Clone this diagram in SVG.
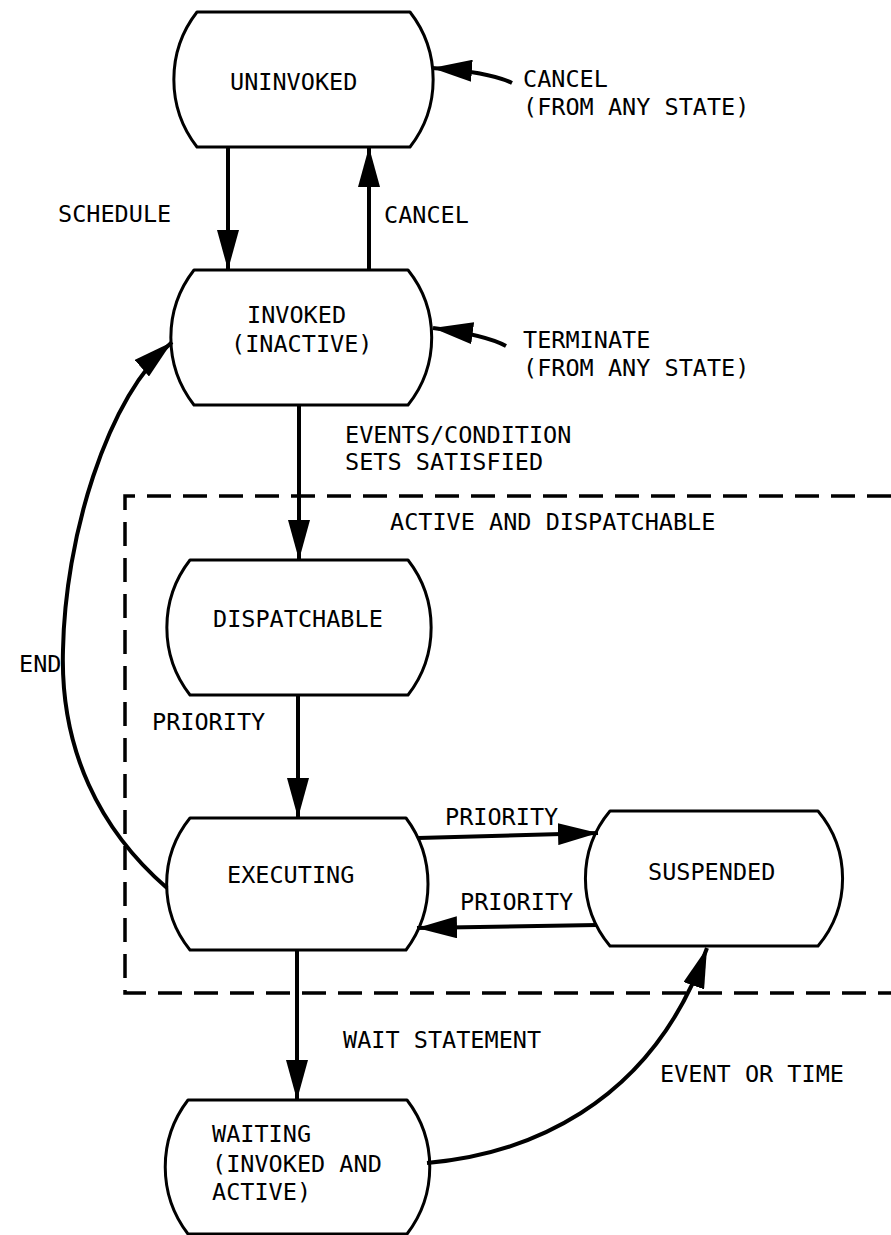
<svg xmlns="http://www.w3.org/2000/svg" width="891" height="1235" viewBox="0 0 891 1235">
<style>
.node{fill:#fff;stroke:#000;stroke-width:3;stroke-linejoin:round}
.conn{fill:none;stroke:#000;stroke-width:4;marker-end:url(#ah)}
.dash{fill:none;stroke:#000;stroke-width:3.5;stroke-dasharray:24 12}
text{font-family:"DejaVu Sans Mono","Liberation Mono",monospace;font-size:23.5px;fill:#000}
</style>
<defs>
<marker id="ah" markerUnits="userSpaceOnUse" markerWidth="42" markerHeight="22" refX="40" refY="11" orient="auto" viewBox="0 0 42 22">
<path d="M0,0 L40,11 L0,22 Z" fill="#000"/>
</marker>
</defs>
<rect width="891" height="1235" fill="#fff"/>
<g id="active-region">
<path class="dash" d="M891,496 L125,496 L125,993 L891,993"/>
<text x="390" y="530">ACTIVE AND DISPATCHABLE</text>
</g>
<g id="uninvoked">
<path class="node" d="M197,12 L410,12 A110,110 0 0 1 410,147 L197,147 A110,110 0 0 1 197,12 Z"/>
<text x="230" y="90">UNINVOKED</text>
</g>
<g id="invoked">
<path class="node" d="M194,270 L408,270 A108,108 0 0 1 408,405 L194,405 A110,110 0 0 1 194,270 Z"/>
<text x="247" y="323">INVOKED</text>
<text x="231" y="352">(INACTIVE)</text>
</g>
<g id="dispatchable">
<path class="node" d="M190,560 L408,560 A110,110 0 0 1 408,695 L190,695 A110,110 0 0 1 190,560 Z"/>
<text x="213" y="627">DISPATCHABLE</text>
</g>
<g id="executing">
<path class="node" d="M190,818 L406,818 A110,110 0 0 1 406,950 L190,950 A105,105 0 0 1 190,818 Z"/>
<text x="227" y="883">EXECUTING</text>
</g>
<g id="suspended">
<path class="node" d="M610,811 L818,811 A105,105 0 0 1 818,946 L610,946 A105,105 0 0 1 610,811 Z"/>
<text x="648" y="880">SUSPENDED</text>
</g>
<g id="waiting">
<path class="node" d="M188,1100 L407,1100 A110,110 0 0 1 407,1234 L188,1234 A110,110 0 0 1 188,1100 Z"/>
<text x="212" y="1142">WAITING</text>
<text x="212" y="1172">(INVOKED AND</text>
<text x="212" y="1200">ACTIVE)</text>
</g>
<g id="connectors">
<path class="conn" d="M228,147 L228,270"/>
<path class="conn" d="M369,270 L369,147"/>
<path class="conn" d="M512,83 Q490,72 432,68"/>
<path class="conn" d="M506,346 Q486,335 433,328"/>
<path class="conn" d="M299,405 L299,560"/>
<path class="conn" d="M298,695 L298,818"/>
<path class="conn" d="M297,950 L297,1100"/>
<path class="conn" d="M418,838 L598,833"/>
<path class="conn" d="M597,925 L417,928"/>
<path class="conn" d="M167,888 C100,830 60,750 63,650 C65,540 105,400 172,342"/>
<path class="conn" d="M427,1163 C520,1155 650,1110 707,948"/>
</g>
<g id="labels">
<text x="523" y="87">CANCEL</text>
<text x="523" y="115">(FROM ANY STATE)</text>
<text x="58" y="222">SCHEDULE</text>
<text x="384" y="223">CANCEL</text>
<text x="523" y="348">TERMINATE</text>
<text x="523" y="376">(FROM ANY STATE)</text>
<text x="345" y="443">EVENTS/CONDITION</text>
<text x="345" y="470">SETS SATISFIED</text>
<text x="19" y="672">END</text>
<text x="152" y="730">PRIORITY</text>
<text x="445" y="825">PRIORITY</text>
<text x="460" y="910">PRIORITY</text>
<text x="343" y="1048">WAIT STATEMENT</text>
<text x="660" y="1082">EVENT OR TIME</text>
</g>
</svg>
